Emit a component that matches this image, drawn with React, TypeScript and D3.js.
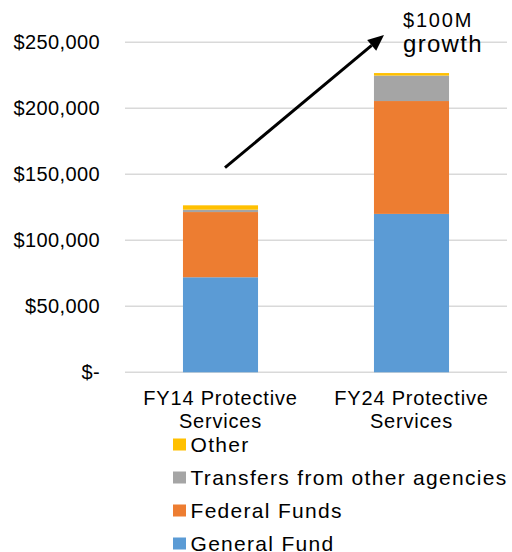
import React from "react";
import * as d3 from "d3";

const categories = ["FY14 Protective Services", "FY24 Protective Services"];
const categoryLines = [["FY14 Protective", "Services"], ["FY24 Protective", "Services"]];
const seriesNames = ["General Fund", "Federal Funds", "Transfers from other agencies", "Other"];
const generalFund = [72000, 120000];
const federalFunds = [49400, 85500];
const transfers = [1800, 19300];
const other = [3300, 1900];
const yTicks = [0, 50000, 100000, 150000, 200000, 250000];
const colors = ["#5B9BD5", "#ED7D31", "#A5A5A5", "#FFC000"];
const annotationLines = ["$100M", "growth"];

const W = 512, H = 552;
const left = 125, right = 507, top = 42.3, bottom = 372.3;
const font = "'Liberation Sans', Arial, sans-serif";

export default function App() {
  const y = d3.scaleLinear().domain([0, 250000]).range([bottom, top]);
  const x = d3.scaleBand<string>().domain(categories).range([left, right]).paddingInner(0.607).paddingOuter(0.3035);
  const rows = categories.map((c, i) => ({
    cat: c,
    "General Fund": generalFund[i],
    "Federal Funds": federalFunds[i],
    "Transfers from other agencies": transfers[i],
    Other: other[i],
  }));
  const stack = d3.stack<any>().keys(seriesNames)(rows);
  const fmt = (v: number) => (v === 0 ? "$-" : "$" + d3.format(",")(v));
  const bw = x.bandwidth();

  const tailX = (x(categories[0]) as number) + bw / 2 + 4.5;
  const tailY = y(155000);
  const tipX = (x(categories[1]) as number) + 10;
  const tipY = y(255500);
  const ang = Math.atan2(tipY - tailY, tipX - tailX);
  const hl = 16, hw = 7;
  const bx = tipX - hl * Math.cos(ang), by = tipY - hl * Math.sin(ang);
  const px = -Math.sin(ang), py = Math.cos(ang);
  const head = `${tipX},${tipY} ${bx + hw * px},${by + hw * py} ${bx - hw * px},${by - hw * py}`;

  const legendOrder = [3, 2, 1, 0];

  return (
    <svg width={W} height={H} style={{ position: "absolute", left: 0, top: 0, background: "#fff" }} fontFamily={font}>
      {yTicks.map((t) => (
        <g key={t}>
          <line x1={left} x2={right} y1={y(t)} y2={y(t)} stroke="#D9D9D9" strokeWidth={1.5} />
          <text x={100} y={y(t) + 7} textAnchor="end" fontSize={20} fill="#000" letterSpacing={0.4}>
            {fmt(t)}
          </text>
        </g>
      ))}
      {stack.map((s, si) => (
        <g key={s.key} fill={colors[si]}>
          {s.map((d, i) => (
            <rect key={i} x={x(categories[i])} width={bw} y={y(d[1])} height={y(d[0]) - y(d[1])} />
          ))}
        </g>
      ))}
      {categories.map((c, i) => (
        <text key={c} textAnchor="middle" fontSize={20} fill="#000" letterSpacing={0.8}>
          {categoryLines[i].map((l, j) => (
            <tspan key={j} x={(x(c) as number) + bw / 2} y={405 + j * 23}>
              {l}
            </tspan>
          ))}
        </text>
      ))}
      <line x1={tailX} y1={tailY} x2={bx} y2={by} stroke="#000" strokeWidth={3} />
      <polygon points={head} fill="#000" />
      <text x={403} y={27.3} fontSize={20} letterSpacing={1.8}>{annotationLines[0]}</text>
      <text x={403} y={52} fontSize={24} letterSpacing={1.3}>{annotationLines[1]}</text>
      {legendOrder.map((si, k) => (
        <g key={si}>
          <rect x={173} y={438.5 + k * 33} width={13} height={12} fill={colors[si]} />
          <text x={190.5} y={451.5 + k * 33} fontSize={21} letterSpacing={1.3}>{seriesNames[si]}</text>
        </g>
      ))}
    </svg>
  );
}
